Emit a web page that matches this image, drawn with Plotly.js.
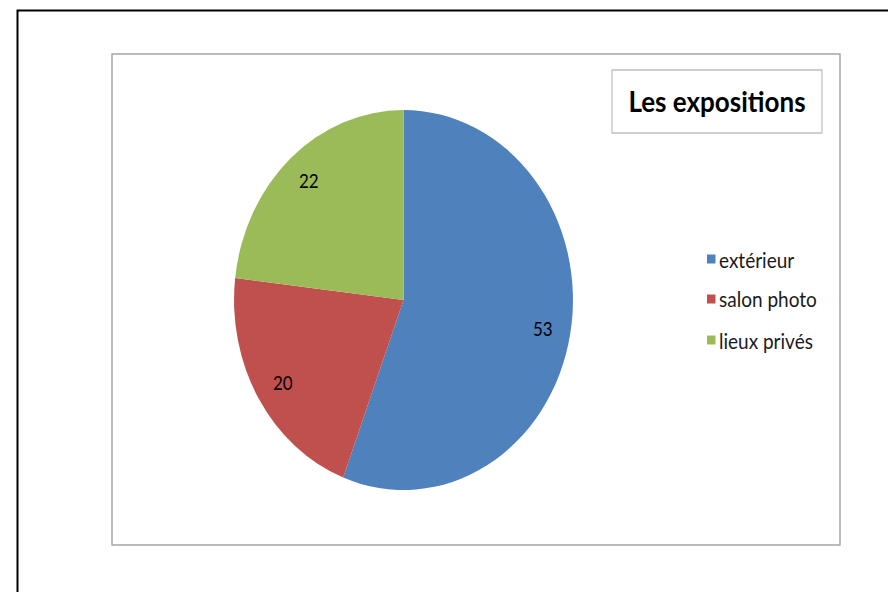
<!DOCTYPE html>
<html>
<head>
<meta charset="utf-8">
<script src="https://cdn.plot.ly/plotly-3.0.1.min.js"></script>
<style>
html,body{margin:0;padding:0;background:#fff;}
#wrap{width:888px;height:592px;overflow:hidden;}
#plot{width:888px;height:528px;transform:scaleY(1.121212);transform-origin:0 0;}
</style>
</head>
<body>
<div id="wrap"><div id="plot"></div></div>
<script>
const categories = ["extérieur", "salon photo", "lieux privés"];
const values = [53, 20, 22];
const colors = ["#4F81BD", "#C0504D", "#9BBB59"];
const chartTitle = "Les expositions";

const W = 888, H = 592;
const px = x => x / W;
const py = y => 1 - y / H;

// pie geometry (reference pixels)
const cx = 403.5, cy = 300, rx = 169.5, ry = 190;
const labelFrac = 0.835;

const trace = {
  type: "pie",
  labels: categories,
  values: values,
  sort: false,
  direction: "clockwise",
  rotation: 0,
  marker: {colors: colors, line: {width: 0}},
  textinfo: "none",
  domain: {x: [px(cx - rx), px(cx + rx)], y: [py(cy + ry), py(cy - ry)]},
  showlegend: false,
  hoverinfo: "label+value"
};

const shapes = [
  {type: "rect", xref: "paper", yref: "paper", x0: px(17.5), x1: 1.05, y0: -0.05, y1: py(10.5),
   line: {color: "#000", width: 2}, fillcolor: "rgba(0,0,0,0)"},
  {type: "rect", xref: "paper", yref: "paper", x0: px(112), x1: px(840), y0: py(545), y1: py(54),
   line: {color: "#A6A6A6", width: 1.5}, fillcolor: "rgba(0,0,0,0)"},
  {type: "rect", xref: "paper", yref: "paper", x0: px(612), x1: px(822), y0: py(133), y1: py(70),
   line: {color: "#BFBFBF", width: 1.2}, fillcolor: "rgba(0,0,0,0)"}
];
const annotations = [];

// data labels placed at slice mid-angles, computed from the values
const total = values.reduce((a, b) => a + b, 0);
let cum = 0;
values.forEach((v, i) => {
  const mid = (cum + v / 2) / total * 2 * Math.PI;
  cum += v;
  annotations.push({xref: "paper", yref: "paper",
    x: px(cx + labelFrac * rx * Math.sin(mid)),
    y: py(cy - labelFrac * ry * Math.cos(mid)),
    xanchor: "center", yanchor: "middle", showarrow: false, text: String(v),
    font: {family: "Lato, 'Open Sans', sans-serif", size: 17, color: "#000"}});
});

const legendY = [259, 299, 340];
categories.forEach((c, i) => {
  shapes.push({type: "rect", xref: "paper", yref: "paper",
    x0: px(707), x1: px(715.5), y0: py(legendY[i] + 4.5), y1: py(legendY[i] - 4.5),
    line: {width: 0}, fillcolor: colors[i]});
  annotations.push({xref: "paper", yref: "paper", x: px(717), y: py(legendY[i]),
    xanchor: "left", yanchor: "middle", showarrow: false, text: c,
    font: {family: "Lato, 'Open Sans', sans-serif", size: 19, color: "#1a1a1a"}});
});

const layout = {
  width: 888, height: 528,
  margin: {l: 0, r: 0, t: 0, b: 0},
  paper_bgcolor: "#fff",
  plot_bgcolor: "#fff",
  showlegend: false,
  title: {text: "<b>" + chartTitle + "</b>", x: px(717), y: py(101.5), xanchor: "center", yanchor: "middle",
          font: {family: "Lato, 'Open Sans', sans-serif", size: 26, color: "#000"}},
  shapes: shapes,
  annotations: annotations
};

Plotly.newPlot("plot", [trace], layout, {displayModeBar: false, staticPlot: true});
</script>
</body>
</html>
